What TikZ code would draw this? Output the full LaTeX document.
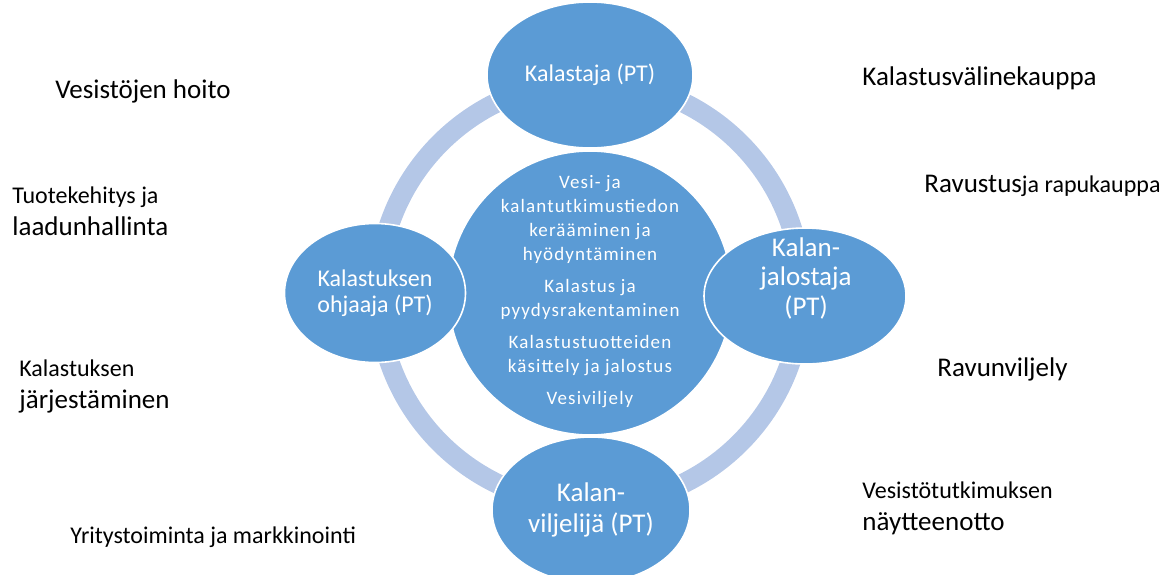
\documentclass[tikz,border=0pt]{standalone}
\usepackage{fontspec}
\setmainfont{Carlito}
\usetikzlibrary{shapes.geometric, positioning}
\definecolor{hubblue}{RGB}{91,155,213}
\definecolor{ringblue}{RGB}{180,199,231}
\begin{document}
\begin{tikzpicture}[x=0.5pt, y=-0.5pt]

\tikzset{blob/.style = {shape=ellipse, fill=hubblue, draw=white, line width=0.8pt, inner sep=0pt, align=center, text=white}}
\tikzset{topic/.style = {anchor=base west, inner sep=0pt, font=\fontsize{13.5}{16}\selectfont}}
\tikzset{minor/.style = {font=\fontsize{12}{14}\selectfont}}
\useasboundingbox (0,0) rectangle (1172,574);
% ring
\coordinate (mid) at (590,293);
\draw [ringblue, line width=10pt] (mid) circle [radius=212];
% vertices
\node[blob, minimum width=142pt, minimum height=142pt] (hub) at (mid) {};
\node[align=center, text=white, inner sep=0pt, font=\fontsize{9.5}{11.85}\selectfont\addfontfeatures{LetterSpace=6}] (hubtext) at (590,292) {Vesi- ja\\kalantutkimustiedon\\kerääminen ja\\hyödyntäminen\\[4.4pt]Kalastus ja\\pyydysrakentaminen\\[4.4pt]Kalastustuotteiden\\käsittely ja jalostus\\[4.4pt]Vesiviljely};
\node[blob, minimum width=103pt, minimum height=73pt, font=\fontsize{12}{13}\selectfont] (kalastaja) at (590,75) {Kalastaja (PT)};
\node[blob, minimum width=90.5pt, minimum height=69.5pt, font=\fontsize{12}{13}\selectfont] (ohjaaja) at (375,293) {Kalastuksen\\ohjaaja (PT)};
\node[blob, minimum width=101pt, minimum height=68pt] (jalostaja) at (805,296) {};
\node[align=center, text=white, inner sep=0pt, font=\fontsize{13.5}{14.75}\selectfont] (jalostajatext) at (806,278) {Kalan-\\jalostaja\\(PT)};
\node[blob, minimum width=99pt, minimum height=73pt, font=\fontsize{13.5}{15.5}\selectfont] (viljelija) at (591,510) {Kalan-\\viljelijä (PT)};
% topics
\node[topic] (hoito) at (55,98) {Vesistöjen hoito};
\node[topic, minor] (tuote) at (12,203) {Tuotekehitys ja};
\node[topic] (laatu) at (12,235) {laadunhallinta};
\node[topic, minor] (jarj) at (19,376) {Kalastuksen};
\node[topic] (jarjestaminen) at (19,408) {järjestäminen};
\node[topic, minor] (yritys) at (70,543) {Yritystoiminta ja markkinointi};
\node[topic] (kauppa) at (862,85) {Kalastusvälinekauppa};
\node[topic] (ravustus) at (924,192) {Ravustus{\fontsize{12}{14}\selectfont ja rapukauppa}};
\node[topic] (ravun) at (937,376) {Ravunviljely};
\node[topic, minor] (tutkimus) at (862,498) {Vesistötutkimuksen};
\node[topic] (naytteet) at (862,530) {näytteenotto};
\end{tikzpicture}
\end{document}
